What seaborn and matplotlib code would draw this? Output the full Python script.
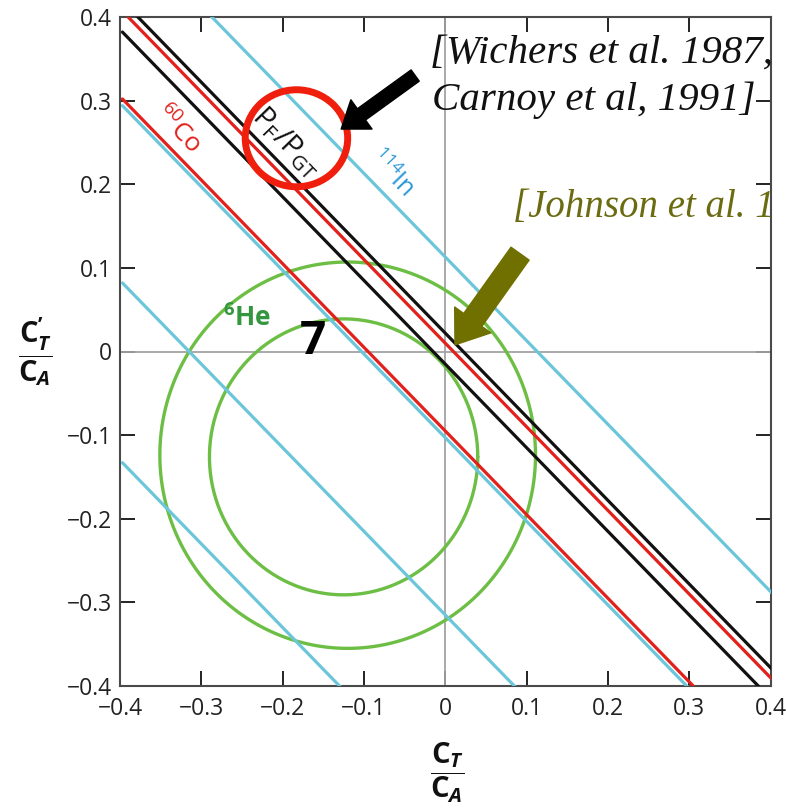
import numpy as np
import pandas as pd
import matplotlib
matplotlib.use("Agg")
import matplotlib.pyplot as plt
import seaborn as sns
from matplotlib.patches import Ellipse

# Straight-line constraints of the form  C_T/C_A + C'_T/C_A = c  (slope -1)
in114_offsets = [-0.53, -0.315, -0.103, 0.113]
co60_offsets = [-0.095, 0.010]
pfgt_offsets = [-0.015, 0.022]

# 6He beta-neutrino correlation contours (circles)
he6_center_x = [-0.120, -0.125]
he6_center_y = [-0.124, -0.126]
he6_radius = [0.231, 0.165]

tick_values = [-0.4, -0.3, -0.2, -0.1, 0.0, 0.1, 0.2, 0.3, 0.4]
tick_labels = ["\u22120.4", "\u22120.3", "\u22120.2", "\u22120.1", "0",
               "0.1", "0.2", "0.3", "0.4"]

sns.set_style("ticks")
plt.rcParams["font.family"] = ["Open Sans", "DejaVu Sans"]
plt.rcParams["mathtext.fontset"] = "custom"
plt.rcParams["mathtext.rm"] = "Open Sans"
plt.rcParams["mathtext.sf"] = "Open Sans"
plt.rcParams["mathtext.it"] = "Open Sans:italic"
plt.rcParams["mathtext.bf"] = "Open Sans:bold"
plt.rcParams["mathtext.bfit"] = "Open Sans:italic:bold"

W, H = 786, 810
fig = plt.figure(figsize=(W / 100, H / 100), dpi=100)
ax = fig.add_axes([120 / W, 1 - 686 / H, 650.5 / W, 669 / H])

# build line table
x_ends = np.array([-0.397, 0.42])
rows = []
for group, offsets in (("In", in114_offsets), ("Co", co60_offsets), ("PF", pfgt_offsets)):
    for i, c in enumerate(offsets):
        for xv in x_ends:
            rows.append({"x": xv, "y": c - xv, "group": group, "line": f"{group}{i}"})
lines = pd.DataFrame(rows)

# zero reference lines
ax.axhline(0, color="#a3a3a3", lw=1.3, zorder=1)
ax.axvline(0, color="#a3a3a3", lw=1.3, zorder=1)

palette = {"In": "#6cc6da", "Co": "#e2211c", "PF": "#111111"}
for group in ("In", "Co", "PF"):
    sub = lines[lines["group"] == group]
    sns.lineplot(data=sub, x="x", y="y", units="line", estimator=None, sort=False,
                 color=palette[group], lw=2.3, ax=ax, legend=False, zorder=3)

# circles
theta = np.linspace(0, 2 * np.pi, 400)
circ_rows = []
for k, (cx, cy, r) in enumerate(zip(he6_center_x, he6_center_y, he6_radius)):
    for t in theta:
        circ_rows.append({"x": cx + r * np.cos(t), "y": cy + r * np.sin(t), "ring": k})
circles = pd.DataFrame(circ_rows)
sns.lineplot(data=circles, x="x", y="y", units="ring", estimator=None, sort=False,
             color="#6dbe45", lw=2.4, ax=ax, legend=False, zorder=2)

ax.set_xlim(-0.4, 0.4)
ax.set_ylim(-0.4, 0.4)
ax.set_xticks(tick_values)
ax.set_xticklabels(tick_labels)
ax.set_yticks(tick_values)
ax.set_yticklabels(tick_labels)
ax.tick_params(direction="in", length=11, width=1.4, colors="#222222",
               top=True, right=True, labelsize=16.5, pad=6)
ax.tick_params(axis="x", pad=8)
for s in ax.spines.values():
    s.set_color("#4a4a4a")
    s.set_linewidth(1.5)
ax.set_xlabel("")
ax.set_ylabel("")

# axis titles as fractions
fig.text(447 / W, 1 - 773 / H,
         r"$\dfrac{\mathbf{C}_{\mathbfit{T}}}{\mathbf{C}_{\mathbfit{A}}}$",
         fontsize=21, ha="center", va="center", color="#111111")
fig.text(35 / W, 1 - 352 / H,
         r"$\dfrac{\mathbf{C}^{\mathbf{’}}_{\mathbfit{T}}}{\mathbf{C}_{\mathbfit{A}}}$",
         fontsize=21, ha="center", va="center", color="#111111")

# line labels
ax.text(-0.329, 0.265, r"$^{60}$Co", color="#e2211c", fontsize=19,
        rotation=-46, ha="center", va="center", zorder=5)
ax.text(-0.195, 0.250, r"P$_\mathregular{F}$/P$_\mathregular{GT}$", color="#111111",
        fontsize=21, rotation=-46, ha="center", va="center", zorder=5)
ax.text(-0.066, 0.213, r"$^{114}$In", color="#2a98d8", fontsize=18,
        rotation=-46, ha="center", va="center", zorder=5)
ax.text(-0.244, 0.040, r"$^{\mathbf{6}}$He", color="#34963f", fontsize=19,
        fontweight="bold", ha="center", va="center", zorder=5)
ax.text(-0.163, 0.012, "7", color="#000000", fontsize=33, fontweight="bold",
        ha="center", va="center", zorder=5)

# highlight ring around the P_F/P_GT label
ax.add_patch(Ellipse((-0.183, 0.255), 0.126, 0.116, fill=False,
                     ec="#f01e0c", lw=5, zorder=6))

# arrows
ax.annotate("", xy=(-0.128, 0.266), xytext=(-0.037, 0.330),
            arrowprops=dict(arrowstyle="simple,head_length=0.9,head_width=1.3,tail_width=0.5",
                            mutation_scale=20, color="black", shrinkA=0, shrinkB=0),
            annotation_clip=False, zorder=7)
ax.annotate("", xy=(0.012, 0.008), xytext=(0.092, 0.117),
            arrowprops=dict(arrowstyle="simple,head_length=1.1,head_width=1.6,tail_width=0.8",
                            mutation_scale=20, color="#707000", shrinkA=0, shrinkB=0),
            annotation_clip=False, zorder=7)

# references
serif = ["Liberation Serif", "DejaVu Serif"]
fig.text(430 / W, 1 - 63 / H, "[Wichers et al. 1987,", family=serif, style="italic",
         fontsize=29.5, color="#111111", ha="left", va="baseline")
fig.text(432 / W, 1 - 110 / H, "Carnoy et al, 1991]", family=serif, style="italic",
         fontsize=29.5, color="#111111", ha="left", va="baseline")
fig.text(513 / W, 1 - 217 / H, "[Johnson et al. 1", family=serif, style="italic",
         fontsize=28, color="#6b6b12", ha="left", va="baseline")

fig.savefig("out.png", dpi=100, facecolor="white")
